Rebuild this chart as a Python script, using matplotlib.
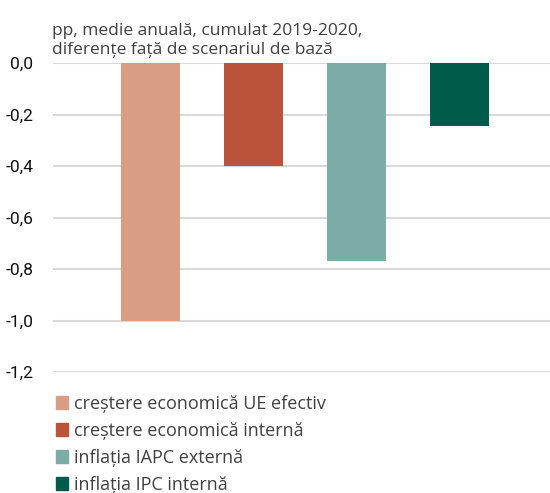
import matplotlib.pyplot as plt
from matplotlib.patches import Patch

# Datele graficului
categorii = ['creștere economică UE efectiv', 'creștere economică internă',
             'inflația IAPC externă', 'inflația IPC internă']
valori = [-1.0, -0.40, -0.77, -0.245]
culori = ['#D99D86', '#BA533A', '#7BADA5', '#005B4B']
ticks_y = [0.0, -0.2, -0.4, -0.6, -0.8, -1.0, -1.2]

fig = plt.figure(figsize=(5.5, 4.93), dpi=100)
ax = fig.add_axes([0.096, 0.245, 0.904, 0.627])

x = range(len(valori))
ax.bar(x, valori, width=0.58, color=culori, zorder=3)

ax.set_ylim(-1.2, 0)
ax.set_xlim(-0.95, 3.88)
ax.set_yticks(ticks_y)
ax.set_yticklabels([f'{v:.1f}'.replace('.', ',') for v in ticks_y],
                   fontsize=12.5, family=['Roboto', 'DejaVu Sans'], color='#111111')
ax.set_xticks([])
ax.tick_params(axis='y', length=0, pad=14)
ax.grid(axis='y', color='#D9D9D9', linewidth=1.5, zorder=0)
for s in ax.spines.values():
    s.set_visible(False)

ax.text(-0.001, 1.018, 'pp, medie anuală, cumulat 2019-2020,\ndiferențe față de scenariul de bază',
        transform=ax.transAxes, ha='left', va='bottom', fontsize=12.5,
        color='#404040', linespacing=1.2, family=['Open Sans', 'DejaVu Sans'])

handles = [Patch(color=c, label=l) for c, l in zip(culori, categorii)]
fig.legend(handles=handles, loc='upper left', bbox_to_anchor=(0.088, 0.214),
           frameon=False, handlelength=0.7, handleheight=0.7,
           handletextpad=0.3, labelspacing=0.5, borderaxespad=0,
           labelcolor='#404040', prop={'family': ['Open Sans', 'DejaVu Sans'], 'size': 13})

fig.savefig('out.png', dpi=100)
